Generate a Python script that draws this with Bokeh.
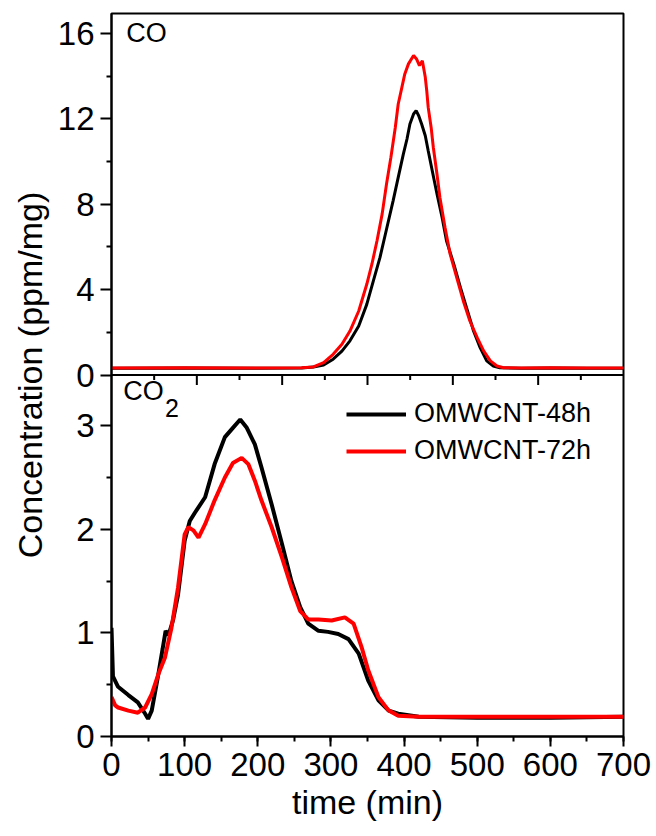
import math
from bokeh.plotting import figure
from bokeh.models import Range1d, FixedTicker, SingleIntervalTicker, Span, Label, Legend, LegendItem
from bokeh.embed import file_html
from bokeh.resources import INLINE

# ---------------- data ----------------
# CO panel (ppm/mg) vs time (min)
co_t_48 = [0, 100, 200, 260, 276, 290, 303, 315, 326, 338, 349, 358, 367, 376, 385, 392,
           399, 404, 408, 413, 416.5, 420, 424, 429, 433, 439, 445, 452, 458, 468, 477,
           486, 495, 504, 513, 522, 531, 560, 600, 650, 700]
co_v_48 = [0.32, 0.33, 0.32, 0.33, 0.37, 0.47, 0.74, 1.12, 1.6, 2.3, 3.31, 4.41, 5.5,
           6.83, 8.16, 9.26, 10.35, 11.06, 11.76, 12.23, 12.39, 12.15, 11.76, 11.21,
           10.51, 9.49, 8.48, 7.38, 6.29, 5.19, 4.1, 3.08, 2.06, 1.28, 0.66, 0.42, 0.34,
           0.32, 0.33, 0.32, 0.32]
co_t_72 = [0, 100, 200, 260, 276, 290, 303, 315, 326, 338, 349, 356, 363, 370, 376, 382,
           388, 392, 397, 401, 406, 413, 417, 421, 425, 429, 431, 433, 437, 440, 445, 449,
           456, 463, 472, 481, 490, 500, 509, 518, 527, 536, 560, 600, 650, 700]
co_v_72 = [0.33, 0.34, 0.33, 0.34, 0.38, 0.58, 0.97, 1.44, 2.06, 3.0, 4.25, 5.19, 6.29,
           7.54, 8.95, 10.2, 11.6, 12.7, 13.48, 14.11, 14.58, 14.97, 14.81, 14.5, 14.73,
           13.95, 13.32, 12.54, 11.6, 10.66, 9.41, 8.32, 6.91, 5.66, 4.57, 3.47, 2.53,
           1.75, 1.12, 0.66, 0.42, 0.34, 0.33, 0.34, 0.33, 0.33]

# CO2 panel (ppm/mg) vs time (min)
co2_t_48 = [0, 2, 9, 23, 36, 46, 50, 55, 64, 70, 74, 78, 84, 91, 100, 107, 114, 128, 141,
            155, 166, 176, 185, 196, 205, 219, 233, 246, 258, 269, 283, 296, 310, 324,
            338, 351, 365, 379, 392, 420, 500, 600, 700]
co2_v_48 = [1.05, 0.58, 0.48, 0.4, 0.33, 0.22, 0.17, 0.25, 0.6, 0.85, 1.02, 0.98, 1.12,
            1.37, 1.89, 2.08, 2.16, 2.31, 2.63, 2.89, 2.98, 3.06, 2.98, 2.82, 2.6, 2.24,
            1.86, 1.5, 1.25, 1.09, 1.02, 1.01, 0.99, 0.94, 0.8, 0.54, 0.35, 0.25, 0.22,
            0.19, 0.18, 0.18, 0.19]
co2_t_72 = [0, 5, 9, 23, 36, 46, 55, 64, 73, 82, 91, 100, 105, 112, 119, 128, 141, 155,
            166, 178, 187, 196, 205, 219, 233, 246, 258, 269, 283, 301, 319, 331, 342,
            351, 365, 379, 392, 420, 500, 600, 700]
co2_v_72 = [0.38, 0.3, 0.28, 0.25, 0.23, 0.28, 0.41, 0.6, 0.76, 1.05, 1.44, 1.95, 2.02,
            1.99, 1.92, 2.05, 2.28, 2.5, 2.64, 2.69, 2.63, 2.47, 2.28, 2.02, 1.73, 1.44,
            1.21, 1.13, 1.13, 1.12, 1.15, 1.09, 0.86, 0.64, 0.38, 0.25, 0.2, 0.19, 0.19,
            0.19, 0.19]

series_names = ["OMWCNT-48h", "OMWCNT-72h"]
co_ticks = [0, 4, 8, 12, 16]
co_minor = [2, 6, 10, 14]
co2_ticks = [0, 1, 2, 3]
co2_minor = [0.5, 1.5, 2.5]
x_ticks_interval = 100

# ---------------- layout / style ----------------
FONT = "Liberation Sans"
CO2_TOP = 3.49    # upper limit of CO2 panel
CO_TOP = 16.94    # upper limit of CO panel
BLACK = "#000000"
RED = "#ff0000"

p = figure(width=656, height=836, output_backend="svg", toolbar_location=None,
           x_range=Range1d(0, 700), y_range=Range1d(0, 2 * CO2_TOP),
           min_border_left=111, min_border_right=33, min_border_top=13,
           min_border_bottom=100)
p.extra_y_ranges = {"co": Range1d(-CO_TOP, CO_TOP)}
p.xgrid.visible = False
p.ygrid.visible = False
p.outline_line_color = "black"
p.outline_line_width = 2
p.background_fill_color = "white"
p.border_fill_color = "white"


def to_main(v):
    return CO2_TOP + v * CO2_TOP / CO_TOP


# curves
p.line(co_t_48, co_v_48, y_range_name="co", line_color=BLACK, line_width=3)
p.line(co_t_72, co_v_72, y_range_name="co", line_color=RED, line_width=3)
r48 = p.line(co2_t_48, co2_v_48, line_color=BLACK, line_width=4)
r72 = p.line(co2_t_72, co2_v_72, line_color=RED, line_width=4)

# divider between panels
p.add_layout(Span(location=CO2_TOP, dimension="width", line_color="black", line_width=2))

# ticks of the upper panel's bottom edge (pointing down)
top_major = [700 / 6 * i for i in range(1, 6)]
top_minor = [700 / 12 * (2 * i + 1) for i in range(6)]
p.ray(x=top_major, y=[CO2_TOP] * len(top_major), length=10, length_units="screen",
      angle=-math.pi / 2, line_color="black", line_width=2)
p.ray(x=top_minor, y=[CO2_TOP] * len(top_minor), length=5, length_units="screen",
      angle=-math.pi / 2, line_color="black", line_width=2)

# y axis: combined ticks for both panels
major = [float(v) for v in co2_ticks] + [to_main(v) for v in co_ticks]
minor = [float(v) for v in co2_minor] + [to_main(v) for v in co_minor]
overrides = {}
for v in co2_ticks:
    overrides[float(v)] = str(v)
for v in co_ticks:
    overrides[to_main(v)] = str(v)
ya = p.yaxis[0]
ya.ticker = FixedTicker(ticks=major, minor_ticks=minor)
ya.major_label_overrides = overrides
ya.axis_label = "Concentration (ppm/mg)"

xa = p.xaxis[0]
xa.ticker = SingleIntervalTicker(interval=x_ticks_interval, num_minor_ticks=2)
xa.axis_label = "time (min)"

for ax in (xa, ya):
    ax.axis_line_width = 2
    ax.major_tick_line_width = 2
    ax.minor_tick_line_width = 2
    ax.major_tick_in = 0
    ax.minor_tick_in = 0
    ax.major_label_text_font = FONT
    ax.major_label_text_font_size = "33px"
    ax.major_label_text_color = "black"
    ax.axis_label_text_font = FONT
    ax.axis_label_text_font_size = "34px"
    ax.axis_label_text_font_style = "normal"
    ax.axis_label_text_color = "black"
ya.major_tick_out = 11
ya.minor_tick_out = 5
ya.major_label_standoff = 6
ya.axis_label_standoff = 6
xa.major_tick_out = 10
xa.minor_tick_out = 5
xa.major_label_standoff = 6
xa.axis_label_standoff = 4

# panel labels
p.add_layout(Label(x=20, y=15.3, y_range_name="co", text="CO", text_font=FONT,
                   text_font_size="27px", text_color="black"))
p.add_layout(Label(x=16, y=3.19, text="CO", text_font=FONT,
                   text_font_size="27px", text_color="black"))
p.add_layout(Label(x=73, y=3.08, text="2", text_font=FONT,
                   text_font_size="25px", text_color="black"))

# legend
legend = Legend(items=[LegendItem(label=series_names[0], renderers=[r48]),
                       LegendItem(label=series_names[1], renderers=[r72])],
                location=(235, 270), glyph_width=60, glyph_height=30, label_height=30,
                label_standoff=8, spacing=6, padding=0, margin=0,
                label_text_font=FONT, label_text_font_size="27px",
                label_text_color="black",
                border_line_alpha=0, background_fill_alpha=0)
p.add_layout(legend)

open("out.html", "w").write(file_html(p, INLINE))
